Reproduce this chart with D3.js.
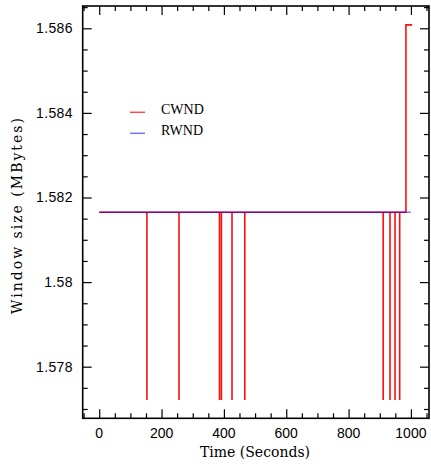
<!DOCTYPE html>
<html>
<head>
<meta charset="utf-8">
<script src="https://cdn.jsdelivr.net/npm/d3@7"></script>
<style>
html,body{margin:0;padding:0;background:#fff;}
svg{display:block;}
</style>
</head>
<body>
<svg id="chart" width="431" height="470"></svg>
<script>
// ---- data ----
const cwndTime  = [0, 153, 153, 153, 256, 256, 256, 386, 386, 386, 392, 392, 392, 426, 426, 426, 467, 467, 467,
                   911, 911, 911, 933, 933, 933, 949, 949, 949, 964, 964, 964, 984, 984, 1004];
const cwndValue = [1.58165, 1.58165, 1.57721, 1.58165, 1.58165, 1.57721, 1.58165, 1.58165, 1.57721, 1.58165,
                   1.58165, 1.57721, 1.58165, 1.58165, 1.57721, 1.58165, 1.58165, 1.57721, 1.58165,
                   1.58165, 1.57721, 1.58165, 1.58165, 1.57721, 1.58165, 1.58165, 1.57721, 1.58165,
                   1.58165, 1.57721, 1.58165, 1.58165, 1.58608, 1.58608];
const rwndTime  = [0, 1000];
const rwndValue = [1.58165, 1.58165];
const xMajorTicks = [0, 200, 400, 600, 800, 1000];
const xTickLabels = ["0", "200", "400", "600", "800", "1000"];
const yMajorTicks = [1.578, 1.580, 1.582, 1.584, 1.586];
const yTickLabels = ["1.578", "1.58", "1.582", "1.584", "1.586"];
const seriesNames = ["CWND", "RWND"];
const seriesColors = ["#ff0000", "#0000ff"];

// ---- layout ----
const svg = d3.select("#chart");
const L = 82.7, R = 429, T = 6, B = 418.3;
const x = d3.scaleLinear().domain([-53, 1058]).range([L, R]);
const y = d3.scaleLinear().domain([1.57678, 1.586527]).range([B, T]);

const xMinor = d3.range(-50, 1060, 50).filter(v => v >= -53 && v <= 1058 && !xMajorTicks.includes(v));
const yMinor = d3.range(1.5770, 1.5866, 0.0005).map(v => +v.toFixed(4))
  .filter(v => v >= 1.57678 && v <= 1.586527 && !yMajorTicks.some(m => Math.abs(m - v) < 1e-7));

// ---- lines ----
const line = d3.line().x(d => x(d[0])).y(d => y(d[1]));
const cwnd = cwndTime.map((t, i) => [t, cwndValue[i]]);
const rwnd = rwndTime.map((t, i) => [t, rwndValue[i]]);

svg.append("path").datum(cwnd).attr("d", line)
  .attr("fill", "none").attr("stroke", seriesColors[0]).attr("stroke-width", 1.6).attr("stroke-opacity", 0.95);
svg.append("path").datum(rwnd).attr("d", line)
  .attr("fill", "none").attr("stroke", seriesColors[1]).attr("stroke-width", 1.5).attr("stroke-opacity", 0.5);

// ---- frame & ticks ----
const g = svg.append("g");
g.append("rect").attr("x", L).attr("y", T).attr("width", R - L).attr("height", B - T)
  .attr("fill", "none").attr("stroke", "#000").attr("stroke-width", 1.6);

const bottomMajor = d3.axisBottom(x).tickValues(xMajorTicks).tickSize(-9).tickFormat("");
const bottomMinor = d3.axisBottom(x).tickValues(xMinor).tickSize(-5).tickFormat("");
const topMajor = d3.axisTop(x).tickValues(xMajorTicks).tickSize(-9).tickFormat("");
const topMinor = d3.axisTop(x).tickValues(xMinor).tickSize(-5).tickFormat("");
const leftMajor = d3.axisLeft(y).tickValues(yMajorTicks).tickSize(-9).tickFormat("");
const leftMinor = d3.axisLeft(y).tickValues(yMinor).tickSize(-5).tickFormat("");
const rightMajor = d3.axisRight(y).tickValues(yMajorTicks).tickSize(-9).tickFormat("");
const rightMinor = d3.axisRight(y).tickValues(yMinor).tickSize(-5).tickFormat("");

function addAxis(ax, tr) {
  const a = g.append("g").attr("transform", tr).call(ax);
  a.select(".domain").remove();
  a.selectAll(".tick line").attr("stroke", "#000").attr("stroke-width", 1.2);
}
addAxis(bottomMajor, `translate(0,${B})`);
addAxis(bottomMinor, `translate(0,${B})`);
addAxis(topMajor, `translate(0,${T})`);
addAxis(topMinor, `translate(0,${T})`);
addAxis(leftMajor, `translate(${L},0)`);
addAxis(leftMinor, `translate(${L},0)`);
addAxis(rightMajor, `translate(${R},0)`);
addAxis(rightMinor, `translate(${R},0)`);

// tick labels
g.selectAll(".xl").data(xMajorTicks).enter().append("text")
  .attr("x", d => x(d)).attr("y", 438).attr("text-anchor", "middle")
  .attr("font-family", "'Liberation Sans', Arial, sans-serif").attr("font-size", 14)
  .text((d, i) => xTickLabels[i]);
g.selectAll(".yl").data(yMajorTicks).enter().append("text")
  .attr("x", 73).attr("y", d => y(d) + 5).attr("text-anchor", "end")
  .attr("font-family", "'Liberation Sans', Arial, sans-serif").attr("font-size", 14)
  .attr("letter-spacing", 0.4)
  .text((d, i) => yTickLabels[i]);

// axis titles
svg.append("text").attr("x", 255).attr("y", 457).attr("text-anchor", "middle")
  .attr("font-family", "'DejaVu Serif', serif").attr("font-size", 14)
  .text("Time (Seconds)");
svg.append("text").attr("transform", "translate(22,215) rotate(-90)").attr("text-anchor", "middle")
  .attr("font-family", "'DejaVu Serif', serif").attr("font-size", 14).attr("letter-spacing", 2)
  .text("Window size (MBytes)");

// legend
const legY = [112.3, 133.3];
seriesNames.forEach((n, i) => {
  svg.append("line").attr("x1", 130).attr("x2", 145).attr("y1", legY[i]).attr("y2", legY[i])
    .attr("stroke", seriesColors[i]).attr("stroke-width", 1.5).attr("stroke-opacity", i === 0 ? 0.7 : 0.55);
  svg.append("text").attr("x", 161).attr("y", legY[i] + 1.5)
    .attr("font-family", "'Liberation Serif', 'Times New Roman', serif").attr("font-size", 14)
    .text(n);
});
</script>
</body>
</html>
